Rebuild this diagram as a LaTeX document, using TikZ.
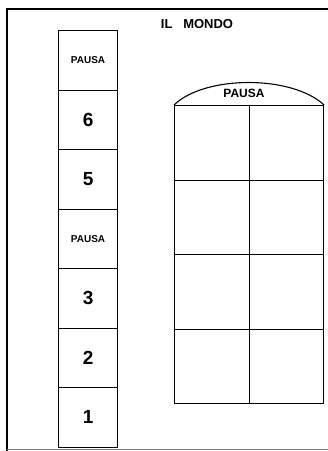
\documentclass[tikz,border=0pt]{standalone}
\usepackage{fontspec}
\setmainfont{Liberation Sans}
\begin{document}
\begin{tikzpicture}[x=1pt,y=-1pt,
  cell/.style={draw,line width=1.1pt,minimum width=59pt,minimum height=59.5pt,inner sep=0pt,anchor=north west},
  gcell/.style={draw,line width=1.1pt,minimum width=74.5pt,minimum height=74.5pt,inner sep=0pt,anchor=north west},
  small/.style={font=\bfseries\fontsize{10}{11}\selectfont},
  big/.style={font=\bfseries\fontsize{19}{21}\selectfont}]
\useasboundingbox (0,0) rectangle (328,451);
% frame
\coordinate (tl) at (7,9);
\coordinate (tr) at (328,9);
\coordinate (bl) at (7,451);
\coordinate (br) at (328,449.5);
\draw[line width=2pt] (tr) -- (tl) -- (bl);
\draw[line width=0.6pt,gray] (7,449.5) -- (br);
% title
\node[font=\bfseries\fontsize{13}{14}\selectfont] (title) at (197,24) {IL\ \ \ MONDO};
% left column
\node[cell,small] (c7) at (58,30) {PAUSA};
\node[cell,big] (c6) at (58,89.5) {6};
\node[cell,big] (c5) at (58,149) {5};
\node[cell,small] (c4) at (58,208.5) {PAUSA};
\node[cell,big] (c3) at (58,268) {3};
\node[cell,big] (c2) at (58,327.5) {2};
\node[cell,big] (c1) at (58,387) {1};
% right grid
\node[gcell] (g11) at (174,105) {};
\node[gcell] (g12) at (248.5,105) {};
\node[gcell] (g21) at (174,179.5) {};
\node[gcell] (g22) at (248.5,179.5) {};
\node[gcell] (g31) at (174,254) {};
\node[gcell] (g32) at (248.5,254) {};
\node[gcell] (g41) at (174,328.5) {};
\node[gcell] (g42) at (248.5,328.5) {};
% arc
\draw[line width=1.1pt] (g11.north west) .. controls (205,75) and (292,75) .. (g12.north east);
\node[font=\bfseries\fontsize{12}{13}\selectfont] (arctext) at (244,93) {PAUSA};
\end{tikzpicture}
\end{document}
